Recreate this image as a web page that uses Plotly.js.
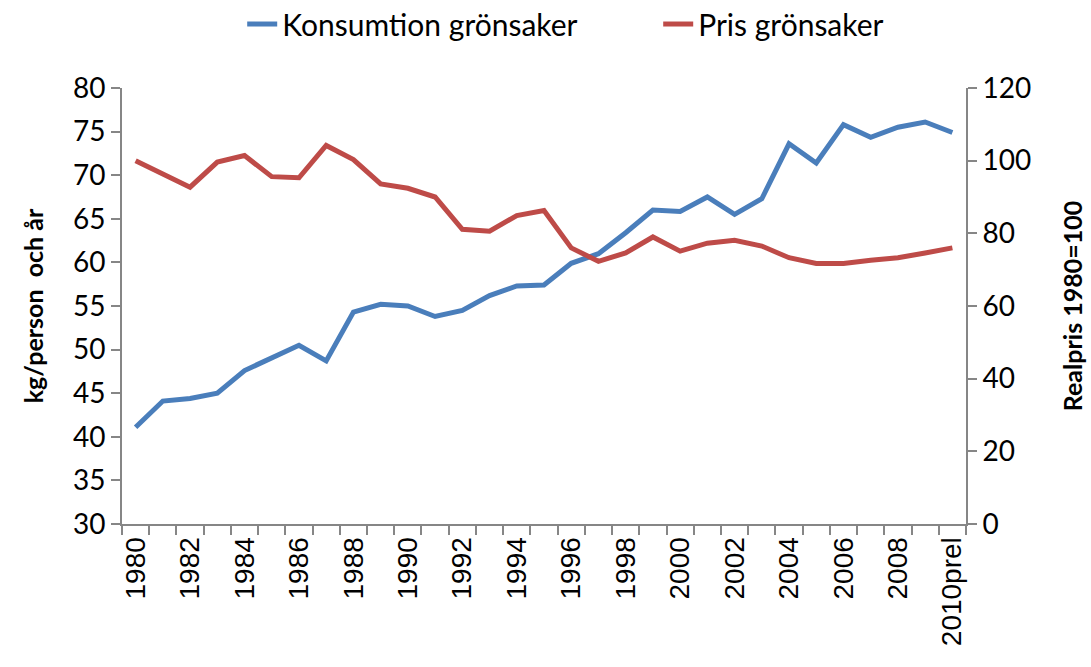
<!DOCTYPE html>
<html>
<head>
<meta charset="utf-8">
<script src="https://cdn.plot.ly/plotly-3.0.1.min.js"></script>
<style>body{margin:0;padding:0;background:#fff;}#chart{width:1091px;height:667px;}</style>
</head>
<body>
<div id="chart"></div>
<script>
const categories = ["1980","1981","1982","1983","1984","1985","1986","1987","1988","1989","1990","1991","1992","1993","1994","1995","1996","1997","1998","1999","2000","2001","2002","2003","2004","2005","2006","2007","2008","2009","2010prel"];
const tickLabels = ["1980","","1982","","1984","","1986","","1988","","1990","","1992","","1994","","1996","","1998","","2000","","2002","","2004","","2006","","2008","","2010prel"];
const konsumtion = [41.1,44.1,44.4,45.0,47.6,49.0,50.5,48.7,54.3,55.2,55.0,53.8,54.5,56.2,57.3,57.4,59.9,61.0,63.4,66.0,65.85,67.5,65.5,67.3,73.6,71.4,75.8,74.35,75.5,76.1,74.9];
const pris = [100.0,96.4,92.7,99.6,101.4,95.6,95.3,104.2,100.3,93.6,92.4,90.0,81.1,80.6,84.9,86.3,76.0,72.3,74.6,79.0,75.1,77.3,78.1,76.5,73.3,71.7,71.7,72.6,73.3,74.6,76.0];

const axisColor = '#868686';
const fam = 'Lato, "Open Sans", sans-serif';
const tickFont = {family: fam, size: 28, color: '#000'};

const traces = [
  {x: categories, y: konsumtion, name: 'Konsumtion grönsaker', type: 'scatter', mode: 'lines',
   line: {color: '#4A7EBB', width: 5}, yaxis: 'y'},
  {x: categories, y: pris, name: 'Pris grönsaker', type: 'scatter', mode: 'lines',
   line: {color: '#BE4B48', width: 5}, yaxis: 'y2'}
];

const layout = {
  width: 1091, height: 667,
  margin: {l: 122, r: 125, t: 88, b: 143},
  paper_bgcolor: '#fff', plot_bgcolor: '#fff',
  showlegend: true,
  legend: {orientation: 'h', x: 0.222, xref: 'container', xanchor: 'left', y: 0.964, yref: 'container', yanchor: 'middle',
    font: {family: fam, size: 30, color: '#000'}, entrywidth: 371, entrywidthmode: 'pixels'},
  xaxis: {type: 'category', tickvals: categories, ticktext: tickLabels, tickangle: -90,
    tickson: 'boundaries', ticks: 'outside', ticklen: 9, tickcolor: axisColor, tickwidth: 2,
    showline: true, linecolor: axisColor, linewidth: 2, showgrid: false, zeroline: false,
    tickfont: {family: '"Liberation Sans", Arial, sans-serif', size: 28, color: '#000'},
    range: [-0.5, 30.5], automargin: false},
  yaxis: {range: [30, 80], dtick: 5, tick0: 30, ticks: 'outside', ticklen: 9, tickcolor: axisColor, tickwidth: 2,
    showline: true, linecolor: axisColor, linewidth: 2, showgrid: false, zeroline: false,
    tickfont: tickFont, automargin: false,
    title: {text: 'kg/person  och år', font: {family: fam, size: 25, color: '#000', weight: 'bold'}, standoff: 22}},
  yaxis2: {range: [0, 120], dtick: 20, tick0: 0, overlaying: 'y', side: 'right', ticks: 'outside', ticklen: 9,
    tickcolor: axisColor, tickwidth: 2, showline: true, linecolor: axisColor, linewidth: 2,
    showgrid: false, zeroline: false, tickfont: tickFont, automargin: false,
    title: {text: 'Realpris 1980=100', font: {family: fam, size: 25, color: '#000', weight: 'bold'}, standoff: 34}}
};

Plotly.newPlot('chart', traces, layout, {displayModeBar: false, staticPlot: true});
</script>
</body>
</html>
